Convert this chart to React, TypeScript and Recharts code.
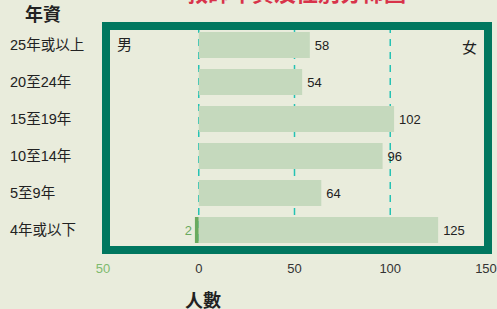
import { BarChart, Bar, XAxis, YAxis, CartesianGrid, LabelList } from "recharts";

const categories = ["25年或以上", "20至24年", "15至19年", "10至14年", "5至9年", "4年或以下"];
const femaleValues = [58, 54, 102, 96, 64, 125];
const maleValues = [0, 0, 0, 0, 0, 2];
const xTicks = [-50, 0, 50, 100, 150];

const data = categories.map((name, i) => ({
  name,
  female: femaleValues[i],
  male: -maleValues[i],
}));

const FONT = '"Liberation Sans", "Noto Sans CJK TC", sans-serif';
const BG = "#e9ecdc";
const MALE = "#6aaa5f";

const YTick = (props: any) => {
  const { y, payload } = props;
  return (
    <text x={10} y={y} dy={5} textAnchor="start" fontSize={14.5} fill="#222" fontFamily={FONT}>
      {payload.value}
    </text>
  );
};

const XTick = (props: any) => {
  const { x, y, payload } = props;
  return (
    <text x={x} y={y} dy={17} textAnchor="middle" fontSize={13} fill={payload.value < 0 ? "#7dba6e" : "#333"} fontFamily={FONT}>
      {Math.abs(payload.value)}
    </text>
  );
};

// male bars are negative, put the count on their outer (left) side
const MaleLabel = (props: any) => {
  const { x, y, width, height, value } = props;
  if (!value) return null;
  const left = Math.min(x, x + width);
  return (
    <text x={left - 3} y={y + height / 2} dy={5} textAnchor="end" fontSize={13} fill={MALE} fontFamily={FONT}>
      {Math.abs(value)}
    </text>
  );
};

export default function App() {
  return (
    <div style={{ position: "absolute", left: 0, top: 0, width: 497, height: 309, background: BG, fontFamily: FONT, overflow: "hidden" }}>
      <div style={{ position: "absolute", left: 180, top: -25, width: 232, textAlign: "center", color: "#d8334a", fontSize: 22, fontWeight: 700, whiteSpace: "nowrap" }}>
        教師年資及性別分佈圖
      </div>
      <div style={{ position: "absolute", left: 25, top: 0, fontSize: 18, fontWeight: 700, color: "#222" }}>年資</div>
      <div style={{ position: "absolute", left: 185, top: 286, fontSize: 18, fontWeight: 700, color: "#222" }}>人數</div>
      <BarChart
        width={497}
        height={309}
        data={data}
        layout="vertical"
        stackOffset="sign"
        margin={{ top: 26, right: 11, bottom: 0, left: 0 }}
      >
        {/* lines at -50 and 150 end up under the frame border */}
        <CartesianGrid horizontal={false} stroke="#25c2b3" strokeWidth={1.5} strokeDasharray="7 6" />
        <XAxis
          type="number"
          domain={[-50, 150]}
          ticks={xTicks}
          axisLine={false}
          tickLine={false}
          tick={<XTick />}
          height={61}
          interval={0}
        />
        <YAxis type="category" dataKey="name" width={103} axisLine={false} tickLine={false} tick={<YTick />} />
        <Bar dataKey="male" stackId="a" fill={MALE} barSize={26} isAnimationActive={false}>
          <LabelList dataKey="male" content={<MaleLabel />} />
        </Bar>
        <Bar dataKey="female" stackId="a" fill="#c5d9bd" barSize={26} isAnimationActive={false}>
          <LabelList dataKey="female" position="right" fill="#222" fontSize={13} offset={5} />
        </Bar>
      </BarChart>
      <div style={{ position: "absolute", left: 102, top: 22, width: 390, height: 232, boxSizing: "border-box", border: "8px solid #00775f", pointerEvents: "none" }}>
        <div style={{ position: "absolute", left: 7, top: 3, fontSize: 15, color: "#222" }}>男</div>
        <div style={{ position: "absolute", right: 7, top: 6, fontSize: 15, color: "#222" }}>女</div>
      </div>
    </div>
  );
}
